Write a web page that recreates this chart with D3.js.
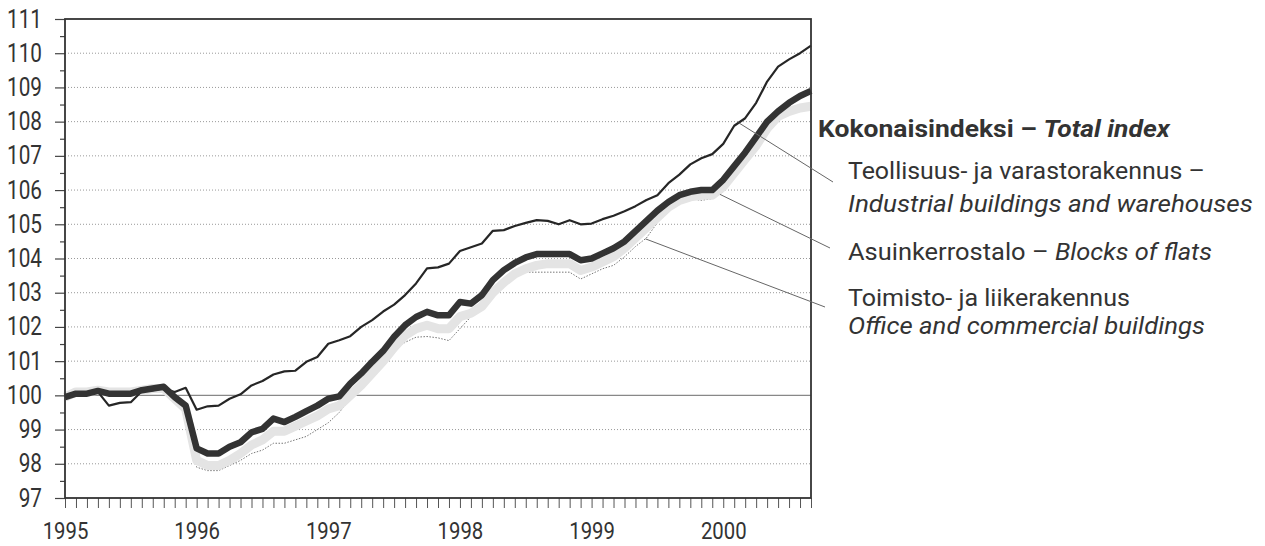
<!DOCTYPE html>
<html>
<head>
<meta charset="utf-8">
<script src="https://cdn.jsdelivr.net/npm/d3@7"></script>
<style>
  html, body { margin: 0; padding: 0; background: #fff; }
  svg { display: block; }
  text { font-family: Roboto, "Liberation Sans", sans-serif; fill: #333; }
</style>
</head>
<body>
<svg id="chart" width="1265" height="546"></svg>
<script>
// ---- Data (monthly, Jan 1995 .. Sep 2000) ----
const monthCount = 69;
const yearLabels = ["1995", "1996", "1997", "1998", "1999", "2000"];
const yTicks = [97, 98, 99, 100, 101, 102, 103, 104, 105, 106, 107, 108, 109, 110, 111];

// Kokonaisindeksi – Total index
const totalIndex = [
  99.95, 100.05, 100.05, 100.13, 100.05, 100.05, 100.05, 100.15, 100.2, 100.25, 99.95, 99.7,
  98.45, 98.3, 98.3, 98.5, 98.63, 98.92, 99.02, 99.32, 99.22, 99.37, 99.54, 99.7,
  99.9, 99.97, 100.34, 100.64, 100.98, 101.3, 101.71, 102.05, 102.29, 102.44, 102.34, 102.34,
  102.73, 102.68, 102.93, 103.37, 103.66, 103.87, 104.03, 104.13, 104.13, 104.13, 104.13, 103.95,
  104.0, 104.15, 104.3, 104.5, 104.8, 105.1, 105.4, 105.65, 105.85, 105.95, 106.0, 106.0,
  106.3, 106.7, 107.1, 107.55, 108.0, 108.3, 108.55, 108.75, 108.9
];
// Teollisuus- ja varastorakennus – Industrial buildings and warehouses
const industrial = [
  99.95, 100.05, 100.05, 100.1, 99.7, 99.78, 99.8, 100.12, 100.15, 100.2, 100.1, 100.22,
  99.58, 99.68, 99.7, 99.9, 100.03, 100.29, 100.42, 100.61, 100.7, 100.72, 100.98, 101.12,
  101.51, 101.61, 101.73, 102.0, 102.2, 102.45, 102.65, 102.93, 103.27, 103.71, 103.74, 103.85,
  104.22, 104.33, 104.44, 104.81, 104.83, 104.95, 105.04, 105.12, 105.1, 105.0, 105.12, 105.0,
  105.02, 105.15, 105.25, 105.38, 105.53, 105.71, 105.85, 106.2, 106.45, 106.75, 106.93, 107.05,
  107.35, 107.88, 108.1, 108.55, 109.17, 109.61, 109.82, 110.0, 110.22
];
// Asuinkerrostalo – Blocks of flats
const flats = [
  99.95, 100.1, 100.1, 100.15, 100.1, 100.1, 100.1, 100.15, 100.2, 100.2, 99.9, 99.6,
  98.1, 97.95, 97.95, 98.1, 98.3, 98.55, 98.7, 98.95, 98.95, 99.1, 99.25, 99.4,
  99.6, 99.7, 100.0, 100.3, 100.65, 101.0, 101.4, 101.75, 101.95, 102.05, 101.95, 101.95,
  102.3, 102.4, 102.6, 103.0, 103.3, 103.55, 103.7, 103.8, 103.85, 103.85, 103.85, 103.65,
  103.75, 103.9, 104.05, 104.3, 104.6, 104.9, 105.2, 105.5, 105.7, 105.8, 105.85, 105.85,
  106.1, 106.5, 106.9, 107.3, 107.8, 108.15, 108.3, 108.4, 108.45
];
// Toimisto- ja liikerakennus – Office and commercial buildings
const office = [
  99.95, 100.05, 100.05, 100.1, 100.05, 100.05, 100.05, 100.1, 100.15, 100.15, 99.85, 99.5,
  97.9, 97.8, 97.8, 97.95, 98.1, 98.3, 98.4, 98.6, 98.6, 98.7, 98.8, 99.0,
  99.2, 99.5, 99.9, 100.25, 100.6, 101.0, 101.35, 101.55, 101.7, 101.72, 101.68, 101.6,
  101.95, 102.3, 102.7, 103.1, 103.4, 103.55, 103.6, 103.6, 103.6, 103.6, 103.6, 103.4,
  103.55, 103.7, 103.8, 104.05, 104.35, 104.6, 105.05, 105.45, 105.7, 105.75, 105.7, 105.75,
  105.95, 106.4, 106.85, 107.3, 107.7, 108.05, 108.25, 108.35, 108.4
];

// ---- Layout ----
const svg = d3.select("#chart");
const plot = { left: 65, right: 811, top: 19, bottom: 498 };
const condense = 0.83;

const x = d3.scaleLinear().domain([0, monthCount - 1]).range([plot.left, plot.right]);
const y = d3.scaleLinear().domain([97, 111]).range([plot.bottom, plot.top]);

// Gridlines
const grid = svg.append("g");
grid.selectAll("line.grid")
  .data(yTicks.filter(v => v > 97 && v < 111 && v !== 100))
  .enter().append("line")
  .attr("x1", plot.left).attr("x2", plot.right)
  .attr("y1", d => y(d)).attr("y2", d => y(d))
  .attr("stroke", "#999").attr("stroke-width", 1)
  .attr("stroke-dasharray", "1,2");
grid.append("line")
  .attr("x1", plot.left).attr("x2", plot.right)
  .attr("y1", y(100)).attr("y2", y(100))
  .attr("stroke", "#888").attr("stroke-width", 1.2);

// condense a tick label horizontally around its anchor
function condenseTick(sel) {
  sel.each(function () {
    const t = d3.select(this);
    const tx = +t.attr("x") || 0, ty = +t.attr("y") || 0;
    t.attr("x", 0).attr("y", 0).attr("transform", `translate(${tx},${ty}) scale(${condense},1)`);
  });
}

// Y axis (major + minor ticks)
const yAxis = d3.axisLeft(y).tickValues(yTicks).tickSize(10).tickPadding(13).tickFormat(d3.format("d"));
const yG = svg.append("g").attr("transform", `translate(${plot.left},0)`).call(yAxis);
yG.select(".domain").remove();
yG.selectAll(".tick line").attr("stroke", "#444").attr("stroke-width", 1.2);
yG.selectAll(".tick text").style("font-size", "25px").attr("fill", "#333").style("font-family", "Roboto, sans-serif")
  .call(condenseTick);
const yMinor = d3.axisLeft(y).tickValues(d3.range(97.5, 111, 1)).tickSize(5).tickFormat("");
const yMG = svg.append("g").attr("transform", `translate(${plot.left},0)`).call(yMinor);
yMG.select(".domain").remove();
yMG.selectAll(".tick line").attr("stroke", "#444").attr("stroke-width", 1.2);

// X axis (monthly ticks, year labels at January)
const xAxis = d3.axisBottom(x).tickValues(d3.range(monthCount)).tickSize(10).tickPadding(14)
  .tickFormat(i => (i % 12 === 0 ? yearLabels[i / 12] : ""));
const xG = svg.append("g").attr("transform", `translate(0,${plot.bottom})`).call(xAxis);
xG.select(".domain").remove();
xG.selectAll(".tick line").attr("stroke", "#555").attr("stroke-width", 1);
xG.selectAll(".tick text").style("font-size", "24.5px").attr("fill", "#333").style("font-family", "Roboto, sans-serif")
  .call(condenseTick);

// Lines
const lineGen = d3.line().x((d, i) => x(i)).y(d => y(d));
svg.append("path").datum(office).attr("d", lineGen)
  .attr("fill", "none").attr("stroke", "#777").attr("stroke-width", 1).attr("stroke-dasharray", "1.5,1.5");
svg.append("path").datum(flats).attr("d", lineGen)
  .attr("fill", "none").attr("stroke", "#e4e4e4").attr("stroke-width", 9).attr("stroke-linejoin", "round");
svg.append("path").datum(industrial).attr("d", lineGen)
  .attr("fill", "none").attr("stroke", "#262626").attr("stroke-width", 2.2).attr("stroke-linejoin", "round");
svg.append("path").datum(totalIndex).attr("d", lineGen)
  .attr("fill", "none").attr("stroke", "#333").attr("stroke-width", 6.5).attr("stroke-linejoin", "round");

// Frame
svg.append("rect")
  .attr("x", plot.left).attr("y", plot.top)
  .attr("width", plot.right - plot.left).attr("height", plot.bottom - plot.top)
  .attr("fill", "none").attr("stroke", "#333").attr("stroke-width", 1.8);

// Leader lines
const leaders = [
  { idx: 61.4, series: industrial, ex: 833, ey: 182 },
  { idx: 59.7, series: flats, off: -0.15, ex: 830, ey: 248 },
  { idx: 52.9, series: office, ex: 825, ey: 307 }
];
leaders.forEach(l => {
  const i0 = Math.floor(l.idx), t = l.idx - i0;
  const v = l.series[i0] * (1 - t) + l.series[i0 + 1] * t + (l.off || 0);
  svg.append("line").attr("x1", x(l.idx)).attr("y1", y(v)).attr("x2", l.ex).attr("y2", l.ey)
    .attr("stroke", "#666").attr("stroke-width", 1);
});

// Legend texts, each fitted to the width it has in the reference
const fs = "24.5px";
function label(px, py, width, parts, bold) {
  const t = svg.append("text").attr("x", 0).attr("y", 0).style("font-size", fs);
  if (bold) t.style("font-weight", "bold");
  parts.forEach(p => t.append("tspan").style("font-style", p.italic ? "italic" : "normal").text(p.s));
  const w = t.node().getComputedTextLength();
  t.attr("transform", `translate(${px},${py}) scale(${width / w},1)`);
}
label(818, 137, 352, [{ s: "Kokonaisindeksi – " }, { s: "Total index", italic: true }], true);
label(848, 179, 357, [{ s: "Teollisuus- ja varastorakennus –" }]);
label(848, 212, 405, [{ s: "Industrial buildings and warehouses", italic: true }]);
label(848, 260, 364, [{ s: "Asuinkerrostalo –  " }, { s: "Blocks of flats", italic: true }]);
label(848, 306, 282, [{ s: "Toimisto- ja liikerakennus" }]);
label(848, 334, 357, [{ s: "Office and commercial buildings", italic: true }]);
</script>
</body>
</html>
